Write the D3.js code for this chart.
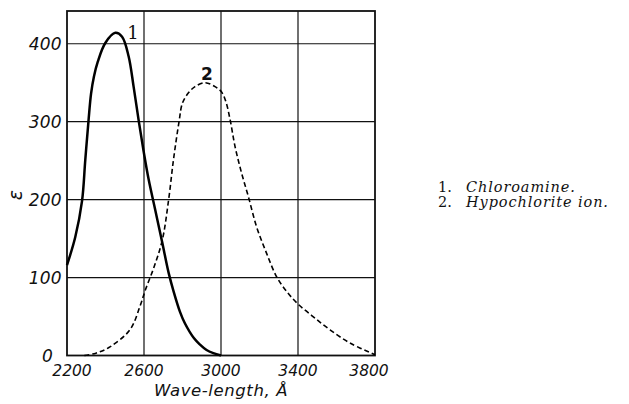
<!DOCTYPE html>
<html><head><meta charset="utf-8">
<script src="https://cdnjs.cloudflare.com/ajax/libs/d3/7.8.5/d3.min.js"></script>
<style>body{margin:0;background:#fff}svg{display:block}</style>
</head><body><svg id="c" width="629" height="404"></svg>
<script>
const wl1 = [2200, 2243, 2278, 2295, 2312, 2325, 2340, 2360, 2399, 2451, 2486, 2520, 2546, 2572, 2598, 2624, 2659, 2694, 2728, 2754, 2787, 2813, 2860, 2891, 2925, 2960, 3000];
const eps1 = [116, 152, 198, 251, 302, 336, 358, 377, 401, 414, 409, 384, 345, 302, 262, 226, 186, 146, 106, 82, 56, 41, 22, 14, 7, 3, 0];
const wl2 = [2290, 2350, 2423, 2527, 2579, 2607, 2650, 2695, 2728, 2753, 2782, 2800, 2831, 2865, 2917, 2969, 3003, 3025, 3047, 3073, 3107, 3142, 3185, 3237, 3289, 3345, 3400, 3478, 3566, 3670, 3800];
const eps2 = [0, 3, 11, 33, 63, 84, 112, 148, 200, 251, 300, 324, 337, 345, 350, 345, 338, 326, 303, 268, 234, 204, 165, 131, 101, 81, 66, 50, 33, 16, 1];
const xTicks = [2200, 2600, 3000, 3400, 3800];
const yTicks = [0, 100, 200, 300, 400];
const legendNums = ["1.", "2."];
const legendNames = ["Chloroamine.", "Hypochlorite ion."];
const curveLabels = ["1", "2"];

const svg = d3.select("#c");
const x = d3.scaleLinear().domain([2200, 3800]).range([67, 375]);
const y = d3.scaleLinear().domain([0, 442]).range([355.5, 11]);

// grid
const g = svg.append("g");
g.selectAll("line.h").data(yTicks.filter(d => d > 0)).enter().append("line")
  .attr("x1", x(2200)).attr("x2", x(3800)).attr("y1", d => y(d)).attr("y2", d => y(d))
  .attr("stroke", "#111").attr("stroke-width", 1.2);
g.selectAll("line.v").data(xTicks.slice(1, -1)).enter().append("line")
  .attr("x1", d => x(d)).attr("x2", d => x(d)).attr("y1", y(442)).attr("y2", y(0))
  .attr("stroke", "#111").attr("stroke-width", 1.2);
// frame
svg.append("rect").attr("x", x(2200)).attr("y", y(442)).attr("width", x(3800) - x(2200)).attr("height", y(0) - y(442))
  .attr("fill", "none").attr("stroke", "#111").attr("stroke-width", 1.8);

// tick labels
const tickFont = "'DejaVu Sans', sans-serif";
svg.selectAll("text.yt").data(yTicks).enter().append("text")
  .attr("x", d => d === 0 ? 53 : 62).attr("y", d => y(d) + 6)
  .attr("text-anchor", "end").attr("font-family", tickFont).attr("font-style", "italic")
  .attr("font-size", 17).attr("letter-spacing", 0.3).attr("fill", "#111").text(d => d);
svg.selectAll("text.xt").data(xTicks).enter().append("text")
  .attr("x", (d, i) => x(d) + (i === 0 ? 5 : i === xTicks.length - 1 ? -6 : 0)).attr("y", 376)
  .attr("text-anchor", "middle").attr("font-family", tickFont).attr("font-style", "italic")
  .attr("font-size", 15.5).attr("fill", "#111").text(d => d);

svg.append("text").attr("x", 221).attr("y", 396).attr("text-anchor", "middle")
  .attr("font-family", tickFont).attr("font-style", "italic").attr("font-size", 16.5)
  .attr("letter-spacing", 0.6).attr("fill", "#111").text("Wave-length, Å");
svg.append("text").attr("transform", "translate(22,195) rotate(-90)").attr("text-anchor", "middle")
  .attr("font-family", tickFont).attr("font-style", "italic").attr("font-size", 19)
  .attr("fill", "#111").text("ε");

// curves
const line = d3.line().x(d => x(d[0])).y(d => y(d[1])).curve(d3.curveCatmullRom.alpha(0.5));
svg.append("path").datum(wl1.map((w, i) => [w, eps1[i]])).attr("d", line)
  .attr("fill", "none").attr("stroke", "#000").attr("stroke-width", 2.5);
svg.append("path").datum(wl2.map((w, i) => [w, eps2[i]])).attr("d", line)
  .attr("fill", "none").attr("stroke", "#000").attr("stroke-width", 1.6).attr("stroke-dasharray", "5,3");

// curve labels
svg.append("text").attr("x", 133).attr("y", 39).attr("text-anchor", "middle")
  .attr("font-family", "'DejaVu Serif', serif").attr("font-size", 18).attr("fill", "#111").text(curveLabels[0]);
svg.append("text").attr("x", 207).attr("y", 80).attr("text-anchor", "middle")
  .attr("font-family", tickFont).attr("font-weight", "bold").attr("font-size", 17).attr("fill", "#111").text(curveLabels[1]);

// legend
legendNums.forEach((n, i) => {
  const t = svg.append("text").attr("x", 438).attr("y", 192 + i * 15)
    .attr("font-family", "'DejaVu Serif', serif").attr("font-size", 14.5).attr("fill", "#111");
  t.append("tspan").text(n);
  t.append("tspan").attr("x", 466).attr("font-style", "italic").attr("letter-spacing", 0.9).text(legendNames[i]);
});
</script></body></html>
